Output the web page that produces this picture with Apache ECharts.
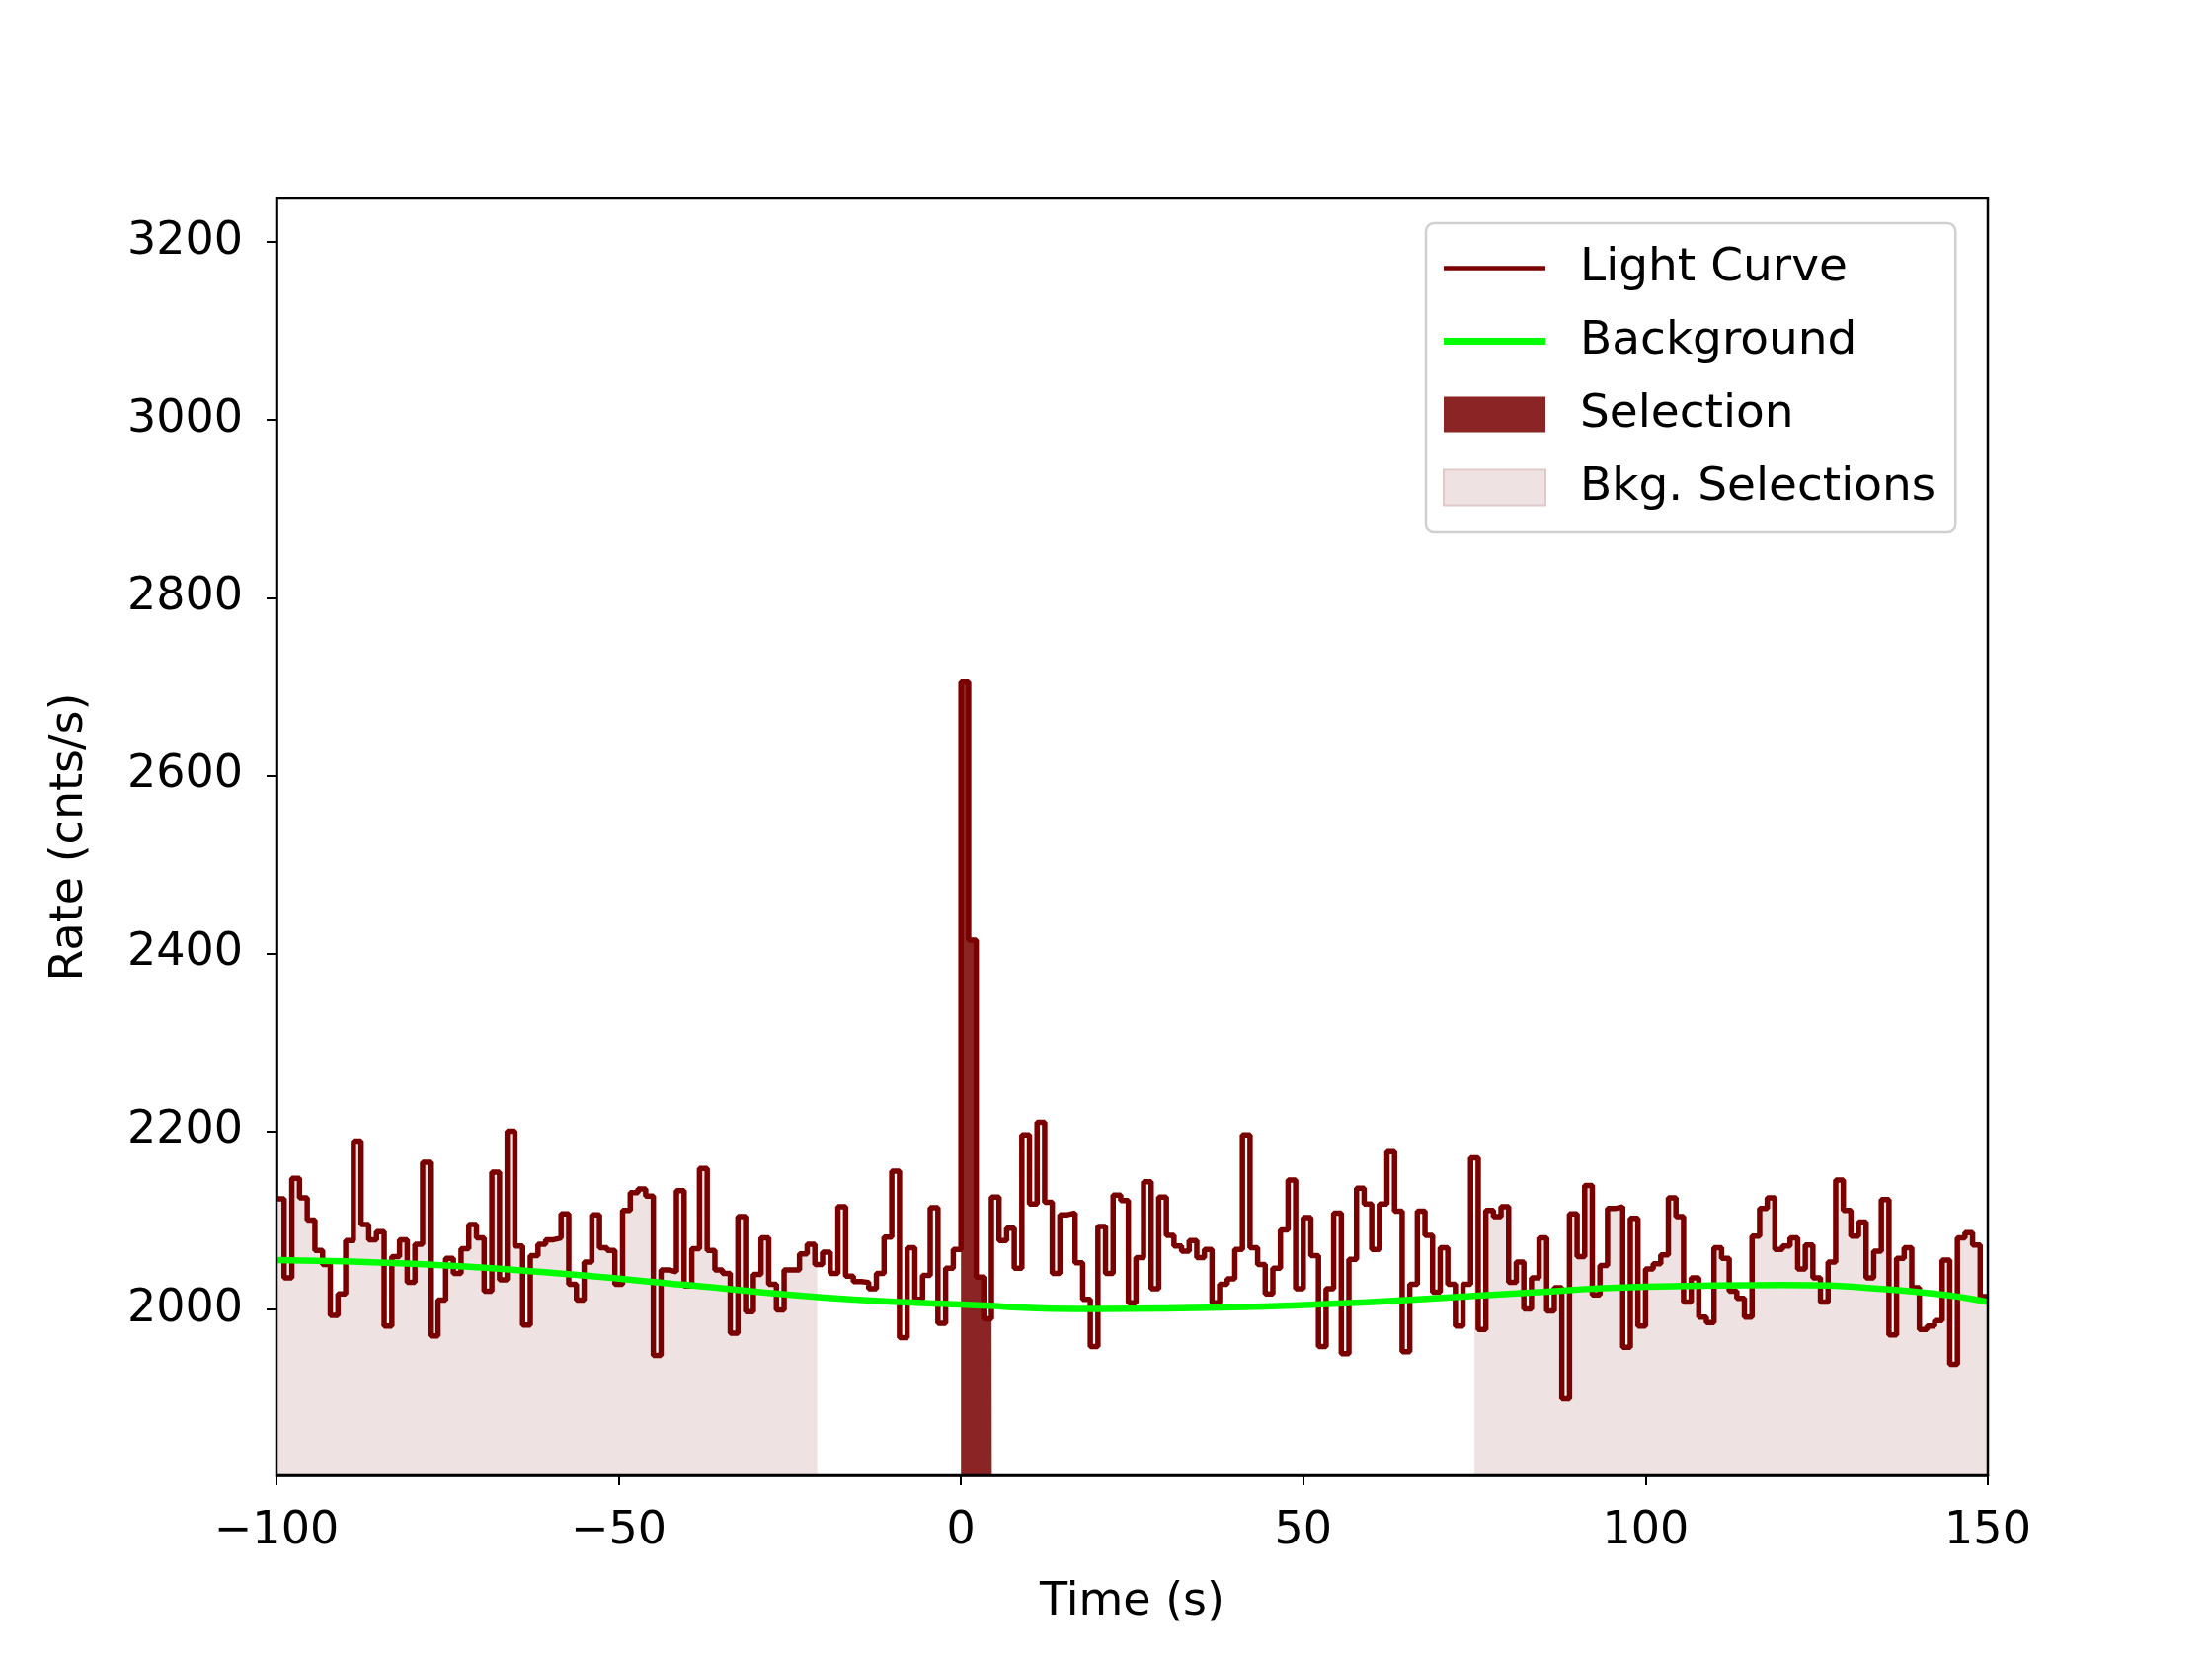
<!DOCTYPE html>
<html>
<head>
<meta charset="utf-8">
<title>Light Curve</title>
<script src="https://cdn.jsdelivr.net/npm/echarts@6/dist/echarts.min.js"></script>
<style>
  html, body { margin: 0; padding: 0; background: #fff; }
  #chart { width: 2240px; height: 1680px; }
</style>
</head>
<body>
<div id="chart"></div>
<script>
// light curve before the trigger (t = -100 .. 0)
var rateBefore = [2124,2035,2147,2125,2100,2066,2050,1993,2017,2077,2189,2095,2078,2087,1981,2059,2078,2030,2073,2165,
  1970,2010,2057,2040,2068,2095,2080,2020,2154,2033,2200,2071,1982,2060,2073,2078,2080,2107,2028,2010,
  2053,2106,2069,2066,2028,2111,2131,2135,2127,1948,2044,2042,2133,2026,2068,2158,2066,2044,2040,1973,
  2104,1997,2039,2080,2028,1999,2044,2044,2062,2073,2050,2064,2040,2115,2037,2031,
  2030,2023,2040,2081,2155,1968,2069,2011,2038,2114,1984,2046,2067];
// light curve after the trigger (t = 0 .. 150)
var rateAfter = [2705,2415,2036,1989,2126,2077,2091,2046,2196,2118,2210,2120,2040,2106,2108,2052,2011,1958,2093,2040,
  2128,2122,2007,2058,2143,2023,2126,2083,2071,2065,2077,2058,2067,2007,2028,2034,2067,2196,2069,2050,
  2017,2046,2089,2145,2023,2103,2060,1958,2023,2108,1950,2056,2136,2118,2067,2118,2177,2110,1952,2028,
  2110,2083,2019,2069,
  2028,1981,2028,2170,1977,2111,2104,2115,2030,2053,2000,2035,2080,1998,2024,1899,2107,2059,2139,2016,
  2049,2113,2115,1957,2102,1981,2045,2051,2061,2125,2104,2008,2035,1991,1985,2069,2057,2020,2012,1991,
  2082,2113,2125,2067,2071,2080,2045,2072,2035,2008,2053,2145,2111,2082,2098,2035,2065,2123,1971,2057,
  2069,2024,1977,1981,1987,2055,1938,2080,2086,2072,2014];
// background model
var bkgTime = [-100,-80,-60,-40,-20,0,20,40,60,80,100,120,140,150];
var bkgRate = [2055,2051,2041,2027,2013,2005,2000,2002,2008,2017,2025,2027,2019,2008];
var selRange = [0, 4.5];
var bkgRanges = [[-100, -21], [75, 150]];
var yTicks = [2000,2200,2400,2600,2800,3000,3200];
var xTicks = [-100,-50,0,50,100,150];

// build step points
var pts = [];
var dtB = 100 / rateBefore.length, dtA = 150 / rateAfter.length;
for (var i = 0; i < rateBefore.length; i++) pts.push([-100 + i * dtB, rateBefore[i]]);
for (var j = 0; j < rateAfter.length; j++) pts.push([j * dtA, rateAfter[j]]);
pts.push([150, rateAfter[rateAfter.length - 1]]);

function cut(a, b) {
  var out = [];
  for (var k = 0; k < pts.length - 1; k++) {
    var s = pts[k][0], e = pts[k + 1][0];
    if (e <= a || s >= b) continue;
    out.push([Math.max(s, a), pts[k][1]]);
    out.push([Math.min(e, b), pts[k][1]]);
  }
  return out;
}
function fillSeries(name, data, color, z) {
  return { name: name, type: 'line', data: data, symbol: 'none', z: z,
    lineStyle: { width: 0 }, areaStyle: { color: color, opacity: 1, origin: 'start' },
    itemStyle: { color: color }, silent: true, animation: false };
}

var font = 'DejaVu Sans';
var chart = echarts.init(document.getElementById('chart'));
var series = [];
bkgRanges.forEach(function (r) { series.push(fillSeries('Bkg. Selections', cut(r[0], r[1]), '#efe2e2', 1)); });
series.push(fillSeries('Selection', cut(selRange[0], selRange[1]), '#8b2525', 2));
series.push({ name: 'Light Curve', type: 'line', step: 'end', data: pts, symbol: 'none', z: 3,
  lineStyle: { color: '#7a0000', width: 5.5 }, itemStyle: { color: '#7a0000' }, animation: false });
series.push({ name: 'Background', type: 'line', smooth: true, z: 4,
  data: bkgTime.map(function (t, i) { return [t, bkgRate[i]]; }), symbol: 'none',
  lineStyle: { color: '#00ff00', width: 6.5 }, itemStyle: { color: '#00ff00' }, animation: false });

chart.setOption({
  backgroundColor: '#fff',
  animation: false,
  grid: { left: 280, top: 201, width: 1733, height: 1293 },
  legend: {
    orient: 'vertical', left: 1444, top: 226, padding: [22, 20, 22, 17],
    backgroundColor: '#fff', borderColor: '#d0d0d0', borderWidth: 2.5, borderRadius: 8,
    itemWidth: 103, itemHeight: 36, itemGap: 27,
    textStyle: { fontFamily: font, fontSize: 47, color: '#000', padding: [0, 0, 0, 30] },
    data: [
      { name: 'Light Curve', icon: 'path://M0,0H30V1.3H0Z' },
      { name: 'Background', icon: 'path://M0,0H30V2H0Z' },
      { name: 'Selection', icon: 'rect' },
      { name: 'Bkg. Selections', icon: 'rect', itemStyle: { borderColor: '#e2c8c8', borderWidth: 2 } }
    ]
  },
  xAxis: {
    type: 'value', min: -100, max: 150,
    name: 'Time (s)', nameLocation: 'middle', nameGap: 106,
    nameTextStyle: { fontFamily: font, fontSize: 46, color: '#000' },
    axisLine: { onZero: false, lineStyle: { color: '#000', width: 2.5 } },
    axisTick: { customValues: xTicks, length: 10, lineStyle: { color: '#000', width: 2 } },
    axisLabel: { customValues: xTicks, fontFamily: font, fontSize: 46, color: '#000', margin: 34,
      formatter: function (v) { return String(v).replace('-', '\u2212'); } },
    splitLine: { show: false }
  },
  yAxis: {
    type: 'value', min: 1813, max: 3249,
    name: 'Rate (cnts/s)', nameLocation: 'middle', nameGap: 186, nameRotate: 90,
    nameTextStyle: { fontFamily: font, fontSize: 46, color: '#000' },
    axisLine: { show: true, onZero: false, lineStyle: { color: '#000', width: 2.5 } },
    axisTick: { show: true, customValues: yTicks, length: 10, lineStyle: { color: '#000', width: 2 } },
    axisLabel: { customValues: yTicks, fontFamily: font, fontSize: 46, color: '#000', margin: 34,
      formatter: function (v) { return String(v); } },
    splitLine: { show: false }
  },
  graphic: [{ type: 'rect', shape: { x: 280, y: 201, width: 1733, height: 1293 }, z: 100, silent: true,
    style: { fill: 'none', stroke: '#000', lineWidth: 2.5 } }],
  series: series
});
</script>
</body>
</html>
